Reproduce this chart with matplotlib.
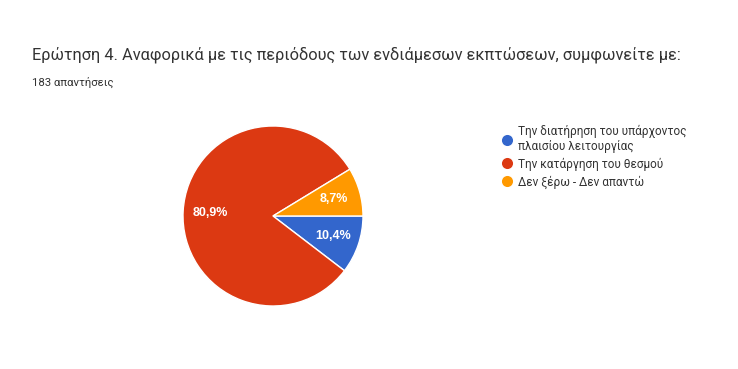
import matplotlib.pyplot as plt
from matplotlib.lines import Line2D

title = 'Ερώτηση 4. Αναφορικά με τις περιόδους των ενδιάμεσων εκπτώσεων, συμφωνείτε με:'
subtitle = '183 απαντήσεις'
labels = ['Την διατήρηση του υπάρχοντος\nπλαισίου λειτουργίας',
          'Την κατάργηση του θεσμού',
          'Δεν ξέρω - Δεν απαντώ']
values = [10.4, 80.9, 8.7]
colors = ['#3366cc', '#dc3912', '#ff9900']

fig = plt.figure(figsize=(7.38, 3.69), dpi=100)
fig.patch.set_facecolor('white')

fig.text(32 / 738, 1 - 55 / 369, title, fontsize=11.8, color='#333333',
         family='Roboto', va='center', ha='left')
fig.text(32 / 738, 1 - 82 / 369, subtitle, fontsize=8.2, color='#333333',
         family='Roboto', va='center', ha='left')

# pie centre ~ (273, 216), radius ~ 90 px
r = 90
ax = fig.add_axes([(273 - r) / 738, 1 - (216 + r) / 369, 2 * r / 738, 2 * r / 369])
wedges, texts = ax.pie(values, colors=colors, startangle=0, counterclock=False,
                       wedgeprops=dict(edgecolor='white', linewidth=1),
                       labels=[f'{v:.1f}%'.replace('.', ',') for v in values],
                       labeldistance=0.7)
for t in texts:
    t.set_color('white')
    t.set_fontsize(9)
    t.set_fontweight('bold')
    t.set_family('Liberation Sans')
    t.set_ha('center')
    t.set_va('center')
ax.set_xlim(-1, 1)
ax.set_ylim(-1, 1)
ax.set_aspect('equal')

handles = [Line2D([0], [0], marker='o', color='w', markerfacecolor=c,
                  markersize=9) for c in colors]
leg = fig.legend(handles, labels, loc='upper left',
                 bbox_to_anchor=(492 / 738, 1 - 114 / 369),
                 frameon=False, handlelength=0.8, handletextpad=0.5,
                 labelspacing=0.4, prop={'family': 'Roboto', 'size': 8.5})
for t in leg.get_texts():
    t.set_color('#333333')

fig.savefig('out.png', dpi=100)
